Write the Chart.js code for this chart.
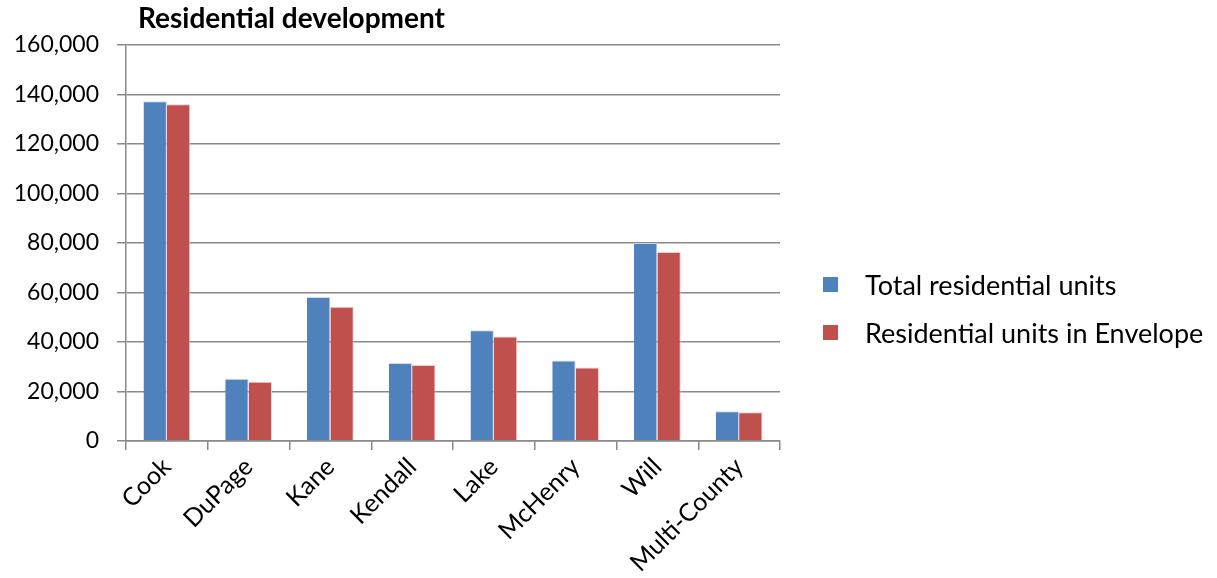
<!DOCTYPE html>
<html><head><meta charset="utf-8">
<script src="https://cdn.jsdelivr.net/npm/chart.js@4/dist/chart.umd.min.js"></script>
<style>html,body{margin:0;padding:0;background:#fff}#wrap{width:1217px;height:578px;position:relative}</style>
</head><body><div id="wrap"><canvas id="c" width="1217" height="578"></canvas></div>
<script>
const chartTitle = 'Residential development';
const categories = ['Cook', 'DuPage', 'Kane', 'Kendall', 'Lake', 'McHenry', 'Will', 'Multi-County'];
const seriesNames = ['Total residential units', 'Residential units in Envelope'];
const totalUnits = [137300, 25200, 58200, 31500, 44700, 32500, 80000, 12000];
const envelopeUnits = [136100, 23900, 54200, 30700, 42200, 29700, 76400, 11600];
const yTicks = [0, 20000, 40000, 60000, 80000, 100000, 120000, 140000, 160000];

const FONT = 'Lato, "Open Sans", sans-serif';
const GRID = '#8a8a8a';

const titlePlugin = {
  id: 'sheetTitle',
  afterDraw(chart) {
    const ctx = chart.ctx;
    ctx.save();
    ctx.font = 'bold 28px ' + FONT;
    ctx.fillStyle = '#000';
    ctx.textBaseline = 'alphabetic';
    ctx.textAlign = 'left';
    ctx.fillText(chartTitle, 138, 28);
    ctx.restore();
  }
};

const legendPlugin = {
  id: 'sideLegend',
  afterDraw(chart) {
    const ctx = chart.ctx;
    ctx.save();
    ctx.font = '27px ' + FONT;
    ctx.textBaseline = 'middle';
    ctx.textAlign = 'left';
    chart.data.datasets.forEach((ds, i) => {
      const cy = 284 + i * 48;
      ctx.fillStyle = ds.backgroundColor;
      ctx.fillRect(823, cy - 7, 15, 15);
      ctx.fillStyle = '#000';
      ctx.fillText(ds.label, 865, cy + 2);
    });
    ctx.restore();
  }
};

new Chart(document.getElementById('c'), {
  type: 'bar',
  data: {
    labels: categories,
    datasets: [
      { label: seriesNames[0], data: totalUnits, backgroundColor: '#4F81BD', borderColor: 'rgba(200,215,235,0.9)', borderWidth: { right: 1, top: 1, left: 0, bottom: 0 } },
      { label: seriesNames[1], data: envelopeUnits, backgroundColor: '#C0504D', borderColor: 'rgba(235,200,200,0.9)', borderWidth: { right: 1, top: 1, left: 0, bottom: 0 } }
    ]
  },
  options: {
    responsive: false,
    animation: false,
    devicePixelRatio: 1,
    layout: { padding: { left: 13, right: 437, top: 45, bottom: 0 } },
    datasets: { bar: { categoryPercentage: 0.5714, barPercentage: 1.0 } },
    plugins: { legend: { display: false }, title: { display: false }, tooltip: { enabled: false } },
    scales: {
      x: {
        offset: true,
        afterFit(axis) { axis.height = 137; },
        grid: { display: true, drawOnChartArea: false, drawTicks: true, tickLength: 9, color: GRID, lineWidth: 1.5, offset: true },
        border: { display: true, color: GRID, width: 1.5 },
        ticks: { color: '#000', font: { family: FONT, size: 25 }, maxRotation: 45, minRotation: 45, padding: 2, autoSkip: false }
      },
      y: {
        min: 0, max: 160000,
        afterBuildTicks(axis) { axis.ticks = yTicks.map(v => ({ value: v })); },
        afterFit(axis) { axis.width = 113; },
        grid: { color: GRID, lineWidth: 1.5, tickLength: 9 },
        border: { display: true, color: GRID, width: 1.5 },
        ticks: { color: '#000', font: { family: FONT, size: 23 }, padding: 18,
          callback: v => Number(v).toLocaleString('en-US') }
      }
    }
  },
  plugins: [titlePlugin, legendPlugin]
});
</script></body></html>
